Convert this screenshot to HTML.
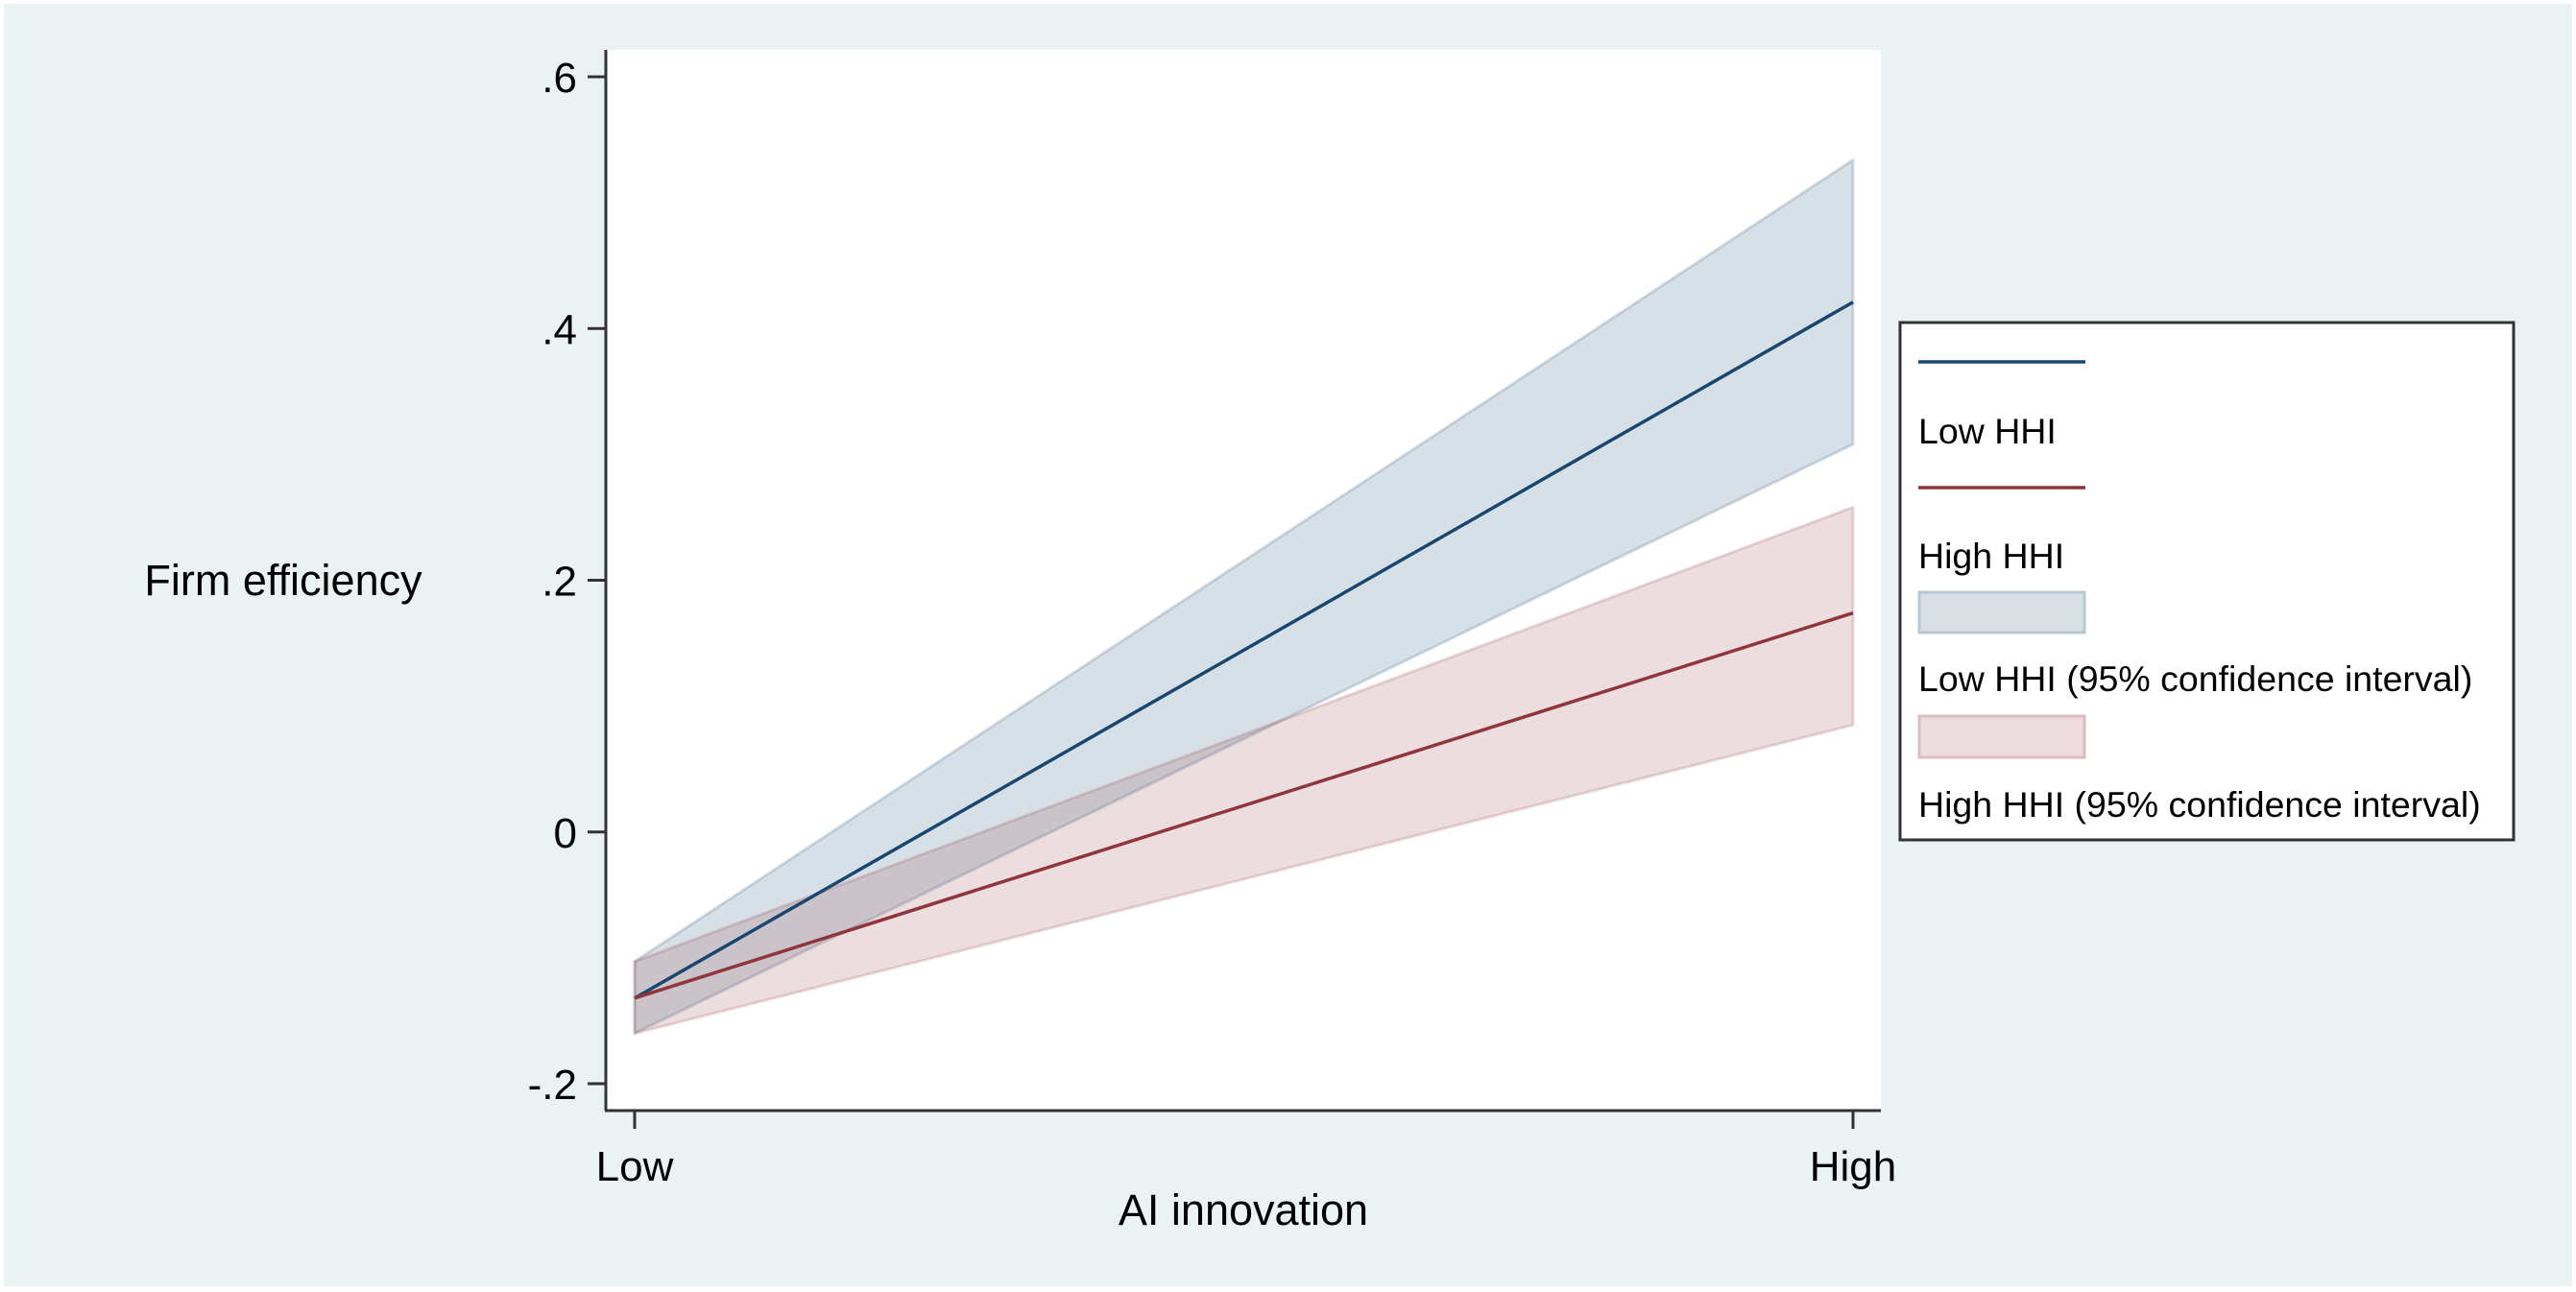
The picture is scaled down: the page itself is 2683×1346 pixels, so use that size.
<!DOCTYPE html>
<html><head><meta charset="utf-8"><style>
html,body{margin:0;padding:0;background:#fff}
svg{display:block;font-family:"Liberation Sans",Arial,sans-serif}
</style></head><body>
<svg id="chart" width="2683" height="1346" viewBox="0 0 2683 1346" xmlns="http://www.w3.org/2000/svg">
<rect x="4" y="4" width="2675" height="1336" fill="#eaf2f3"/>
<rect x="631" y="52" width="1328" height="1105" fill="#ffffff"/>
<g id="marks"></g>
<g id="axes"></g>
<text x="295" y="620" font-size="45" text-anchor="middle" fill="#000">Firm efficiency</text>
<text x="1295" y="1276" font-size="45" text-anchor="middle" fill="#000">AI innovation</text>
<g>
<rect x="1979" y="336" width="639" height="539" fill="#fff" stroke="#333" stroke-width="3"/>
<line x1="1998" y1="377" x2="2172" y2="377" stroke="#1a476f" stroke-width="3.5"/>
<text x="1998" y="462" font-size="37.5" fill="#000">Low HHI</text>
<line x1="1998" y1="508" x2="2172" y2="508" stroke="#90353b" stroke-width="3.5"/>
<text x="1998" y="592" font-size="37.5" fill="#000">High HHI</text>
<rect x="1999" y="617" width="172" height="42" fill="#d8e0e6" stroke="#b7c7d3" stroke-width="3"/>
<text x="1998" y="720" font-size="37.5" fill="#000">Low HHI (95% confidence interval)</text>
<rect x="1999" y="746" width="172" height="43" fill="#ecdcde" stroke="#dcbcc0" stroke-width="3"/>
<text x="1998" y="851" font-size="37.5" fill="#000">High HHI (95% confidence interval)</text>
</g>
</svg>
<script>
const categories = ["Low", "High"];
const lowFit = [-0.132, 0.421];
const lowUpper = [-0.103, 0.534];
const lowLower = [-0.160, 0.308];
const highFit = [-0.132, 0.174];
const highUpper = [-0.103, 0.258];
const highLower = [-0.160, 0.085];
const yTicks = [-0.2, 0, 0.2, 0.4, 0.6];
const yTickLabels = ["-.2", "0", ".2", ".4", ".6"];

const NS = "http://www.w3.org/2000/svg";
function yScale(v){ return 866.75 - v * 1311.25; }
function xScale(i){ return 661 + i * (1930 - 661) / (categories.length - 1); }
function mk(tag, attrs, parent){
  const e = document.createElementNS(NS, tag);
  for (const k in attrs) e.setAttribute(k, attrs[k]);
  parent.appendChild(e); return e;
}
const marks = document.getElementById('marks');
const axes = document.getElementById('axes');

function band(up, lo, fill, stroke, name){
  let pts = [];
  for (let i=0;i<categories.length;i++) pts.push(xScale(i)+','+yScale(up[i]));
  for (let i=categories.length-1;i>=0;i--) pts.push(xScale(i)+','+yScale(lo[i]));
  const p = mk('polygon', {points: pts.join(' '), fill: fill, stroke: stroke, 'stroke-width': 3, 'stroke-linejoin':'round'}, marks);
  
  
}
function line(vals, color, name){
  const pts = vals.map((v,i)=>xScale(i)+','+yScale(v)).join(' ');
  const p = mk('polyline', {points: pts, fill:'none', stroke: color, 'stroke-width': 3.5}, marks);
  
  
}
band(lowUpper, lowLower, 'rgba(26,71,111,0.17)', 'rgba(26,71,111,0.18)', 'low-hhi-ci-band');
band(highUpper, highLower, 'rgba(144,53,59,0.17)', 'rgba(144,53,59,0.18)', 'high-hhi-ci-band');
line(lowFit, '#1a476f', 'low-hhi-line');
line(highFit, '#90353b', 'high-hhi-line');

const ya = mk('line', {x1:631, y1:52, x2:631, y2:1157, stroke:'#333', 'stroke-width':3}, axes);


const xa = mk('line', {x1:630, y1:1157, x2:1959, y2:1157, stroke:'#333', 'stroke-width':3}, axes);


yTicks.forEach((t,i)=>{
  const y = yScale(t);
  const tk = mk('line', {x1:612, y1:y, x2:631, y2:y, stroke:'#333', 'stroke-width':3}, axes);
  
  
  const tx = mk('text', {x:601, y:y+16, 'font-size':44, 'text-anchor':'end', fill:'#000'}, axes);
  tx.textContent = yTickLabels[i];
  
  
});
categories.forEach((c,i)=>{
  const x = xScale(i);
  const tk = mk('line', {x1:x, y1:1157, x2:x, y2:1176, stroke:'#333', 'stroke-width':3}, axes);
  
  
  const tx = mk('text', {x:x, y:1230, 'font-size':44, 'text-anchor':'middle', fill:'#000'}, axes);
  tx.textContent = c;
  
  
});
</script>
</body></html>
